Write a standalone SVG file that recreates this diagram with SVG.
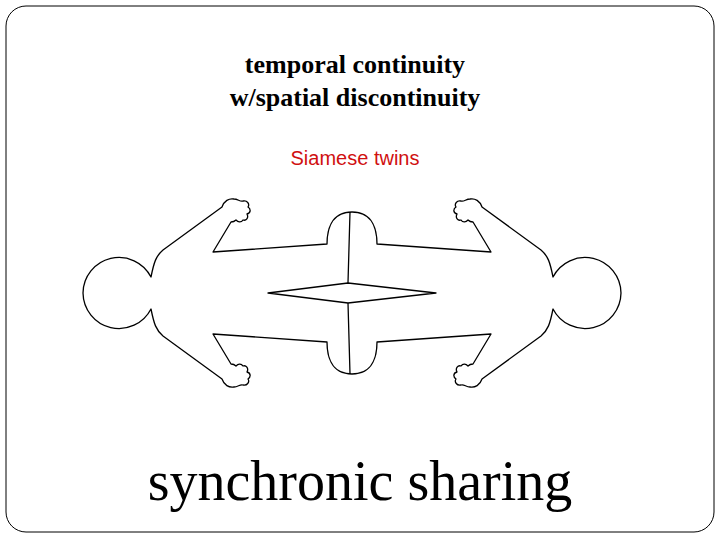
<svg xmlns="http://www.w3.org/2000/svg" xmlns:xlink="http://www.w3.org/1999/xlink" width="720" height="540" viewBox="0 0 720 540">
<style>
.o{fill:none;stroke:#000;stroke-width:1.3;stroke-linejoin:round}
.t{font-family:"Liberation Serif",serif;text-anchor:middle;fill:#000}
</style>
<defs>
<path id="q" class="o" d="M83,293 A36,36 0 0 1 151,277 C154,262 156,256 163,250 L222,207 C224,201 229,198 234,199 C238,199 240,202 243,201 C247,200 250,204 248,207 C251,209 251,213 247,214 C249,218 246,221 243,220 C241,223 238,222 236,220 C234,222 232,222 231,222 L213,252 L327,244 C327,232 330,212 352,212"/>
</defs>
<rect x="6" y="6" width="708" height="526" rx="20" fill="#fff" stroke="#000" stroke-width="1"/>
<g id="figure">
<use xlink:href="#q"/>
<use xlink:href="#q" transform="translate(704,0) scale(-1,1)"/>
<use xlink:href="#q" transform="translate(0,586) scale(1,-1)"/>
<use xlink:href="#q" transform="translate(704,586) scale(-1,-1)"/>
<path class="o" d="M350,212 L348,283 M348,303 L350,374"/>
<polygon class="o" points="268,293 348,283 436,293 348,303"/>
</g>
<text class="t" x="355" y="73" font-size="26" font-weight="bold">temporal continuity</text>
<text class="t" x="355" y="106" font-size="26" font-weight="bold">w/spatial discontinuity</text>
<text x="355" y="165" font-family="Liberation Sans,sans-serif" font-size="20" fill="#d01010" text-anchor="middle">Siamese twins</text>
<text class="t" x="360" y="500" font-size="56">synchronic sharing</text>
</svg>
